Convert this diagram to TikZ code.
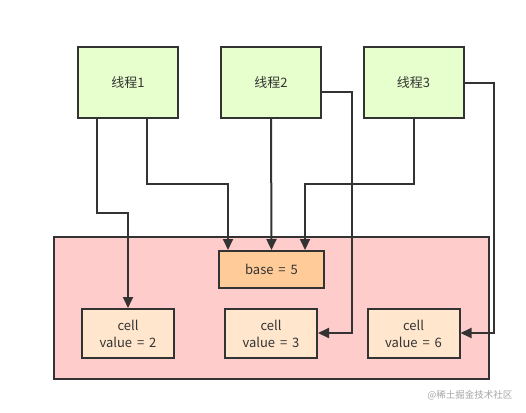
\documentclass[tikz,border=0pt]{standalone}
\usepackage{fontspec}
\setmainfont[WordSpace=1.7]{Noto Sans CJK SC}
\usetikzlibrary{arrows.meta}
\definecolor{threadfill}{RGB}{230,255,204}
\definecolor{outerfill}{RGB}{255,204,204}
\definecolor{basefill}{RGB}{255,204,153}
\definecolor{cellfill}{RGB}{255,230,204}
\definecolor{linecol}{RGB}{51,51,51}
\begin{document}
\begin{tikzpicture}[x=1pt,y=-1pt,
  box/.style={draw=linecol,line width=2pt,inner sep=0pt,font=\fontsize{13}{17}\selectfont,text=linecol,align=center},
  threadbox/.style={box,fill=threadfill,minimum width=100pt,minimum height=71pt},
  cellbox/.style={box,fill=cellfill,minimum width=92pt,minimum height=49pt},
  basebox/.style={box,fill=basefill,minimum width=105pt,minimum height=37pt},
  conn/.style={draw=linecol,line width=2pt,-{Triangle[length=11pt,width=10pt]}},
]
\useasboundingbox (0,0) rectangle (526,412);
\fill[white] (0,0) rectangle (526,412);
\node[draw=linecol,line width=2pt,fill=outerfill,minimum width=435pt,minimum height=142pt,inner sep=0pt] (outer) at (271.5,308) {};
\node[threadbox] (t1) at (128,82.5) {线程1};
\node[threadbox] (t2) at (271,82.5) {线程2};
\node[threadbox] (t3) at (413.5,82.5) {线程3};
\node[basebox] (base) at (271.5,269.5) {base = 5};
\node[cellbox] (c1) at (128,333.5) {cell\\value = 2};
\node[cellbox] (c2) at (271,333.5) {cell\\value = 3};
\node[cellbox] (c3) at (413.5,333.5) {cell\\value = 6};
\draw[conn] (t1.south -| 97,0) |- (128,213) -- (c1.north);
\draw[conn] (t1.south -| 147,0) |- (228,184) -- (base.north -| 228,0);
\draw[conn] (t2.south) -- (base.north);
\draw[conn] (t3.south) |- (305,184) -- (base.north -| 305,0);
\draw[conn] (t2.east |- 0,92) -| (352,333) -- (c2.east |- 0,333);
\draw[conn] (t3.east |- 0,83) -| (494,333) -- (c3.east |- 0,333);
\node[text=black!35,font=\fontsize{9.5}{11}\selectfont,anchor=east] (wm) at (516,395) {@稀土掘金技术社区};
\end{tikzpicture}
\end{document}
